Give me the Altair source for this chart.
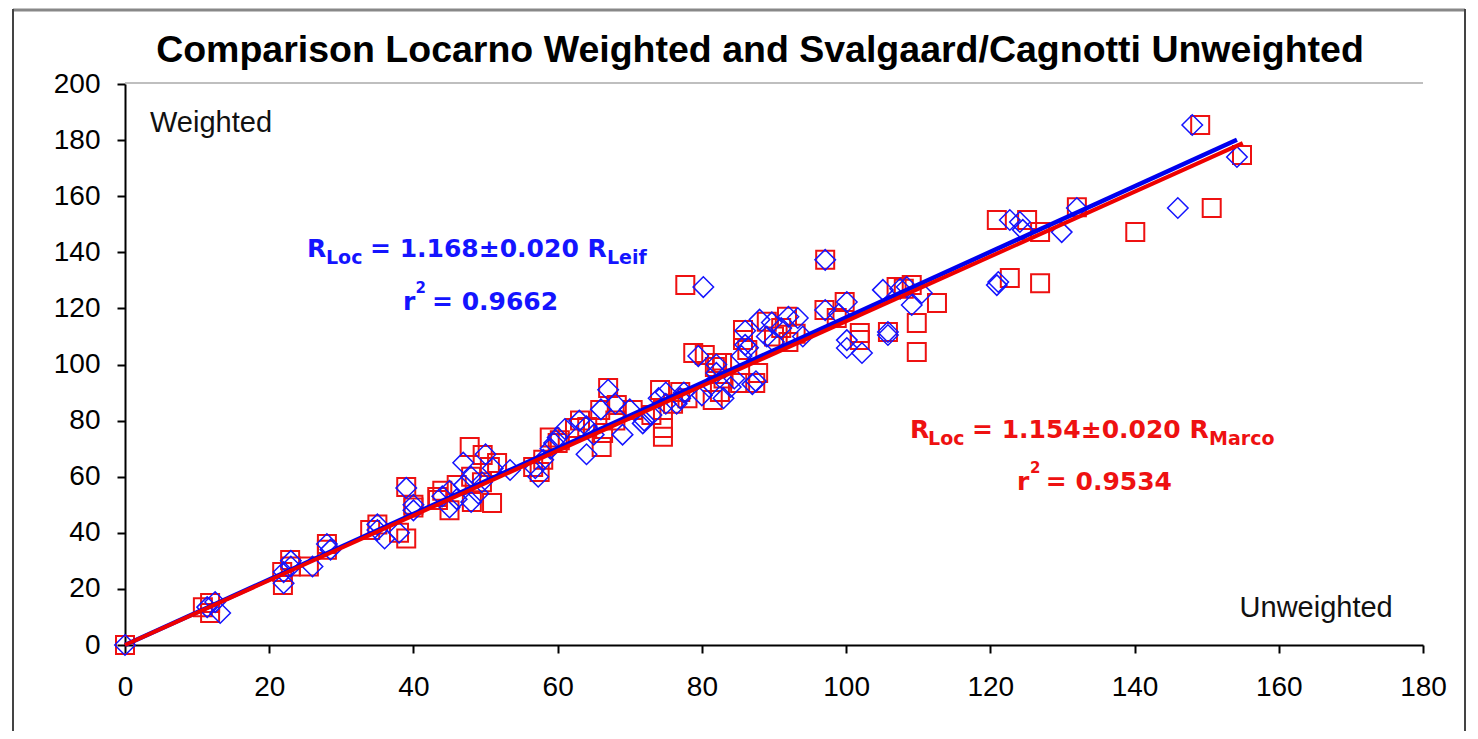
import altair as alt
import pandas as pd

# Leif (Svalgaard) unweighted vs Locarno weighted -- blue diamonds
leif_x = [0, 11.4, 12.5, 13.2, 22, 22, 23, 23, 26, 28, 28.5, 35, 35, 36, 38, 39, 40, 40,
          44, 45, 46.9, 47, 48, 46, 49, 45, 48, 50, 51, 53.4, 49.5,
          56.9, 57.3, 58, 59, 59.5, 60, 61, 63, 64, 64, 65, 66, 67, 68, 69, 71.8, 70, 72, 73,
          74, 75, 75, 76.5, 77, 77.5, 79.5, 80.2, 80, 81, 82, 82, 83, 84, 84.5, 85.5, 86, 86.4,
          86, 87, 87.5, 88, 89, 89.7, 90, 91, 92, 93.3, 94, 97.1, 97.1, 99, 100.1, 100.1, 100.1,
          102.2, 105.1, 105.8, 105.8, 108.4, 109.1, 110.5, 107.5,
          120.9, 121.1, 122.7, 124.1, 124.5, 129.9, 132, 146, 148, 154.2]
leif_y = [0, 13.5, 15.3, 11.4, 22, 26, 28, 30, 28, 36, 34, 43, 41, 38, 40, 56, 50, 48,
          53, 55, 65, 57, 60, 52, 54, 49, 51, 68, 63, 62.4, 58,
          63, 60, 66, 70, 72, 74, 77, 80, 78, 68, 75, 84, 91, 86, 75, 79, 84, 80, 82,
          88, 90, 86, 86, 88, 90, 103, 127.6, 89, 92, 97, 100, 88, 92, 95, 103, 107, 106,
          112, 93, 94, 116, 110, 115, 108, 113, 117, 116.6, 110, 137.3, 119.4, 118, 122.3, 108.7, 105.9,
          104.1, 126.6, 111.6, 110.5, 127.6, 121.2, 125.5, 127,
          128.3, 129.4, 151.5, 150.8, 148, 147.2, 155.8, 155.8, 185.4, 174]

# Marco (Cagnotti) unweighted vs Locarno weighted -- red squares
marco_x = [0, 10.8, 11.8, 11.8, 21.9, 21.8, 22.9, 23, 25.5, 28, 28, 34, 35, 39, 38, 39, 40, 40,
           43.3, 44, 47.8, 46, 48, 48.1, 49.6, 45, 50.9, 50.6, 51.6, 43.4, 49.5,
           56.6, 57.5, 58, 58.9, 60.3, 60, 62.4, 63.1, 64.1, 66.1, 66.3, 65.9, 67, 68.2, 68, 70.4,
           73, 74.2, 74.6, 74.6, 74.6, 77, 76, 78, 78.8, 77.7, 80.4, 82.8, 81.8, 81.5, 82.5, 82.1,
           83, 85.3, 86.3, 85.7, 85.7, 87.8, 87.4, 89, 91.8, 90, 91, 92, 93, 97, 97.1, 98.7, 99.8,
           101.9, 101.9, 105.8, 107, 109.1, 112.6, 109.8, 109.8, 108,
           122.7, 126.9, 120.9, 125.1, 126.9, 140.1, 132, 150.7, 149.1, 154.9]
marco_y = [0, 13.5, 15, 11.4, 21.4, 26, 30.3, 28, 28, 36, 34, 41, 43, 38, 40, 56.3, 50, 49,
           52.8, 55, 70.6, 57, 60, 51, 67.7, 48, 50.6, 63.5, 64.9, 51.7, 58,
           63.5, 61.7, 66, 74, 73, 72, 77.4, 80, 77.7, 70.6, 75.6, 83.8, 91.6, 85.6, 80, 83.8,
           82, 90.9, 83.8, 77.4, 74.2, 90.2, 86, 88, 104.1, 128.3, 103.4, 100.5, 99.1, 87.3, 90.2, 100.5,
           95, 93.4, 105.2, 108.7, 112.3, 97, 93.4, 115.2, 117, 110, 113, 108, 111, 119.4, 137.3, 116.6, 122.3,
           111.2, 108.7, 111.6, 127.6, 128.3, 121.9, 114.8, 104.5, 127,
           130.8, 129, 151.5, 151.5, 147.2, 147.2, 156.1, 155.8, 185.4, 174.7]

# regression line end points
leif_line_x = [0, 154.2]
leif_line_y = [0, 180.1]
marco_line_x = [0, 155.0]
marco_line_y = [0, 178.9]

x_ticks = list(range(0, 181, 20))
y_ticks = list(range(0, 201, 20))

TITLE = "Comparison Locarno Weighted and Svalgaard/Cagnotti Unweighted"

BLUE = "#1414ff"
RED = "#ee1111"

W, H = 1298, 561

xs = alt.Scale(domain=[0, 180], nice=False)
ys = alt.Scale(domain=[0, 200], nice=False)

leif = pd.DataFrame({"x": leif_x, "y": leif_y})
marco = pd.DataFrame({"x": marco_x, "y": marco_y})
lline = pd.DataFrame({"x": leif_line_x, "y": leif_line_y})
mline = pd.DataFrame({"x": marco_line_x, "y": marco_line_y})

xenc = alt.X("x:Q", scale=xs, axis=alt.Axis(values=x_ticks, title=None, labelFlush=False))
yenc = alt.Y("y:Q", scale=ys, axis=alt.Axis(values=y_ticks, title=None, labelFlush=False))

squares = alt.Chart(marco).mark_point(shape="square", filled=False, size=324,
                                       color=RED, strokeWidth=2, opacity=1).encode(x=xenc, y=yenc)
diamonds = alt.Chart(leif).mark_point(shape="diamond", filled=False, size=420,
                                       color=BLUE, strokeWidth=1.5, opacity=1).encode(x=xenc, y=yenc)
bline = alt.Chart(lline).mark_line(color="#0000ee", strokeWidth=4.5).encode(x=xenc, y=yenc)
rline = alt.Chart(mline).mark_line(color="#ee0000", strokeWidth=4).encode(x=xenc, y=yenc)

# annotation pieces (data coordinates)
eq_text = ["R", "Loc", "= 1.168±0.020 R", "Leif", "r", "2", "= 0.9662",
           "R", "Loc", "= 1.154±0.020 R", "Marco", "r", "2", "= 0.9534"]
eq_x = [25.24, 27.87, 33.98, 66.84, 38.55, 40.3, 42.57,
        108.86, 111.36, 117.46, 150.33, 123.7, 125.5, 127.7]
eq_y = [138.3, 135.8, 138.3, 135.8, 119.4, 125.5, 119.4,
        73.8, 71.3, 73.8, 71.3, 55.3, 61.3, 55.3]
eq_size = [25, 19, 25, 19, 25, 15, 25, 25, 19, 25, 19, 25, 15, 25]
eq_color = [BLUE] * 7 + [RED] * 7

eq = pd.DataFrame({"x": eq_x, "y": eq_y, "t": eq_text, "s": eq_size, "c": eq_color})
eqs = alt.Chart(eq).mark_text(font="DejaVu Sans", fontWeight="bold", align="left",
                              baseline="alphabetic").encode(
    x=alt.X("x:Q", scale=xs), y=alt.Y("y:Q", scale=ys), text="t:N",
    size=alt.Size("s:Q", scale=None, legend=None),
    color=alt.Color("c:N", scale=None, legend=None))

lab = pd.DataFrame({"x": [3.47, 175.8], "y": [182.9, 10.0], "t": ["Weighted", "Unweighted"]})
labs_l = alt.Chart(lab.iloc[[0]]).mark_text(font="Liberation Sans", fontSize=29, align="left",
                                            baseline="alphabetic", color="#111").encode(
    x=alt.X("x:Q", scale=xs), y=alt.Y("y:Q", scale=ys), text="t:N")
labs_r = alt.Chart(lab.iloc[[1]]).mark_text(font="Liberation Sans", fontSize=29, align="right",
                                            baseline="alphabetic", color="#111").encode(
    x=alt.X("x:Q", scale=xs), y=alt.Y("y:Q", scale=ys), text="t:N")

one = alt.Data(values=[{"a": 1}])
title = alt.Chart(alt.Data(values=[{"t": TITLE}])).mark_text(
    font="Liberation Sans", fontSize=37.5, fontWeight="bold", color="black",
    align="center", baseline="alphabetic").encode(
    x=alt.value(635), y=alt.value(-22), text="t:N")
frame_top = alt.Chart(one).mark_rule(color="#888888", strokeWidth=3).encode(
    x=alt.value(-112), x2=alt.value(1340), y=alt.value(-74))
frame_left = alt.Chart(one).mark_rule(color="#444444", strokeWidth=2).encode(
    x=alt.value(-112), y=alt.value(-75), y2=alt.value(647))
frame_right = alt.Chart(one).mark_rule(color="#444444", strokeWidth=2).encode(
    x=alt.value(1340), y=alt.value(-75), y2=alt.value(647))
plot_top = alt.Chart(one).mark_rule(color="#aaaaaa", strokeWidth=1.5).encode(
    x=alt.value(0), x2=alt.value(W), y=alt.value(-1))

chart = alt.layer(
    frame_top, frame_left, frame_right, plot_top, title,
    squares, diamonds, bline, rline, eqs, labs_l, labs_r
).properties(
    width=W, height=H,
    padding={"left": 117, "top": 76, "right": 47, "bottom": 86},
    autosize=alt.AutoSizeParams(type="none"),
).configure_view(stroke=None).configure_axis(
    grid=False, domainColor="black", domainWidth=2, tickColor="black", tickWidth=2,
    tickSize=8, labelFont="Liberation Sans", labelFontSize=28, labelColor="black"
).configure_axisY(labelPadding=17).configure_axisX(labelPadding=20)

chart.save("out.html", embed_options={"renderer": "svg", "actions": False})
